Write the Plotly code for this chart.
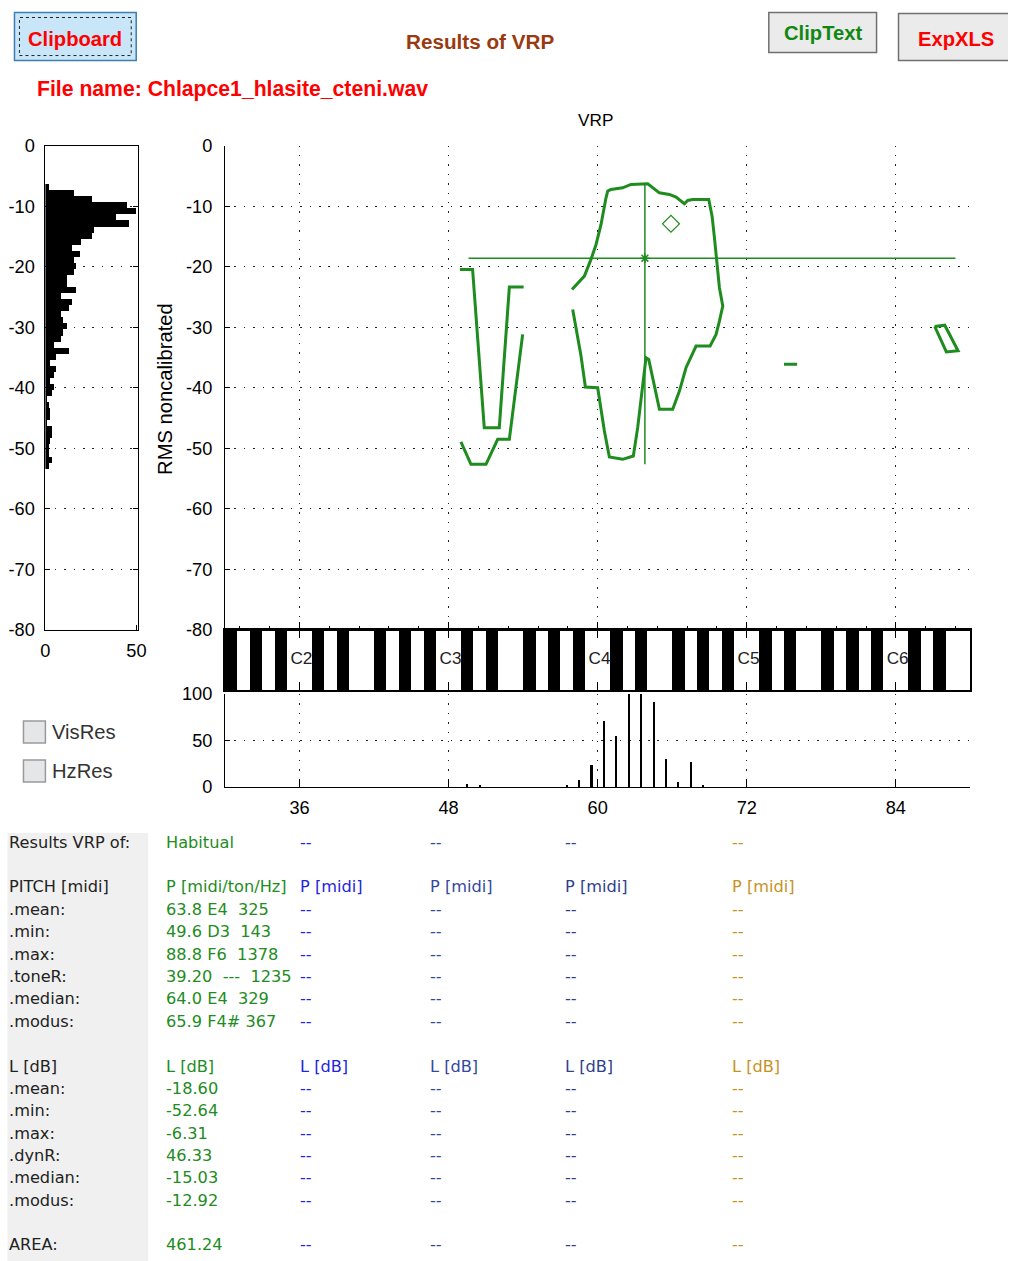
import plotly.graph_objects as go

# Positions below are given in screenshot pixels of the 1009x1261 picture.
# The captured page is offset and slightly scaled relative to figure pixels,
# so screenshot positions are mapped into figure pixels with that correction.
SX, OX = 0.9893, 3.5
SY, OY = 0.9835, 10.5
W, H = 1008, 1264


def X(px):
    return ((px - OX) / SX) / W


def Y(py):
    return 1 - ((py - OY) / SY) / H


def fs(size):
    return round(size / SX, 1)


GREEN = "#1e8c1e"

# ---------------- data ----------------
# left histogram of levels (dB bins, counts)
level_bins = [-6.8, -7.8, -8.8, -9.8, -10.8, -11.8, -12.8, -13.8, -14.8, -15.8,
              -16.8, -17.8, -18.8, -19.8, -20.8, -21.8, -22.8, -23.8, -24.8, -25.8,
              -26.8, -27.8, -28.8, -29.8, -30.8, -31.8, -32.8, -33.8, -34.8, -35.8,
              -36.8, -37.8, -38.8, -39.8, -40.8, -41.8, -42.8, -43.8, -44.8, -45.8,
              -46.8, -47.8, -48.8, -49.8, -50.8, -51.8, -52.8]
level_counts = [2, 16, 26, 45, 50, 39, 46, 27, 26, 20,
                15, 19, 16, 17, 16, 12, 12, 17, 9, 15,
                13, 9, 10, 12, 10, 9, 5, 13, 6, 3,
                6, 5, 3, 5, 4, 1, 2, 3, 3, 1,
                4, 4, 3, 2, 2, 4, 2]

# bottom histogram of pitch (midi bins, counts)
pitch_bins = [49.5, 50.5, 57.5, 58.5, 59.5, 60.5, 61.5, 62.5, 63.5, 64.5, 65.5, 66.5, 67.5, 68.5]
pitch_counts = [3, 2, 2, 8, 24, 71, 55, 118, 112, 91, 30, 5, 27, 2]

# VRP contour pieces (midi, dB)
main_pitch = [57.99, 58.26, 58.66, 59.01, 60.00, 60.54, 60.94, 62.01, 62.87, 63.22,
              63.49, 63.89, 64.11, 64.97, 66.04, 66.58, 67.11, 67.92, 69.05, 69.53,
              69.80, 70.07, 69.80, 69.58, 69.40, 69.21, 68.94, 67.65, 67.25, 66.98,
              66.31, 65.77, 64.97, 64.03, 63.09, 62.68, 62.01, 61.07, 60.81, 60.67,
              60.27, 59.87, 59.46, 58.93, 57.93]
main_level = [-27.06, -30.08, -34.76, -39.88, -39.99, -47.14, -51.43, -51.82, -51.27, -46.59,
              -42.19, -35.03, -35.31, -43.56, -43.56, -40.54, -36.69, -33.11, -33.11, -31.18,
              -28.98, -26.51, -23.48, -18.53, -15.23, -11.65, -8.90, -8.90, -9.06, -9.61,
              -8.51, -8.07, -7.80, -6.31, -6.31, -6.42, -6.97, -7.25, -7.52, -8.62,
              -13.03, -16.33, -18.80, -21.55, -23.76]
segA_pitch = [48.91, 49.93, 50.87, 52.08, 52.89, 54.04]
segA_level = [-20.45, -20.45, -46.59, -46.59, -23.37, -23.37]
segB_pitch = [48.99, 49.80, 51.01, 51.95, 52.89, 53.96]
segB_level = [-48.95, -52.64, -52.64, -48.51, -48.51, -31.18]
segD_pitch = [75.0, 76.05]
segD_level = [-36.1, -36.1]
segE_pitch = [87.13, 87.94, 89.01, 88.07, 87.13]
segE_level = [-29.87, -29.67, -33.90, -34.08, -29.87]

mean_pitch, mean_level = 63.8, -18.60
min_pitch, max_pitch = 49.6, 88.8
min_level, max_level = -52.64, -6.31
modus_pitch, modus_level = 65.9, -12.92

pitch_ticks = [36, 48, 60, 72, 84]
level_ticks = [0, -10, -20, -30, -40, -50, -60, -70, -80]
level_ticktext = ["0", "-10", "-20", "-30", "-40", "-50", "-60", "-70", "-80"]
octave_labels = ["C2", "C3", "C4", "C5", "C6"]
black_keys = [m for m in range(30, 90) if m % 12 in (1, 3, 6, 8, 10)]

# results table
row_labels = ["Results VRP of:", "PITCH [midi]", ".mean:", ".min:", ".max:", ".toneR:",
              ".median:", ".modus:", "L [dB]", ".mean:", ".min:", ".max:", ".dynR:",
              ".median:", ".modus:", "AREA:"]
row_y = [842, 886, 909, 931, 954, 976, 998, 1021, 1066, 1088, 1110, 1133, 1155, 1177, 1200, 1244]
habitual_col = ["Habitual", "P [midi/ton/Hz]", "63.8 E4  325", "49.6 D3  143", "88.8 F6  1378",
                "39.20  ---  1235", "64.0 E4  329", "65.9 F4# 367", "L [dB]", "-18.60",
                "-52.64", "-6.31", "46.33", "-15.03", "-12.92", "461.24"]
empty_col = ["--", "P [midi]", "--", "--", "--", "--", "--", "--", "L [dB]",
             "--", "--", "--", "--", "--", "--", "--"]
empty_col_x = [300, 430, 566, 733]
empty_col_colors = ["#2424e0", "#34489e", "#2f3f90", "#c8921e"]

# ---------------- figure ----------------
fig = go.Figure()

# left histogram
fig.add_trace(go.Bar(x=level_counts, y=level_bins, orientation="h", width=1.0,
                     marker=dict(color="black", line=dict(width=0)),
                     xaxis="x4", yaxis="y4"))
# keyboard
fig.add_trace(go.Bar(x=[m + 0.5 for m in black_keys], y=[1] * len(black_keys), width=1.0,
                     marker=dict(color="black", line=dict(width=0)),
                     xaxis="x2", yaxis="y2"))
fig.add_trace(go.Scatter(x=[p + 0.15 for p in pitch_ticks], y=[0.5] * len(pitch_ticks),
                         mode="text", text=octave_labels,
                         textfont=dict(size=fs(17), color="#222", family="Arial"),
                         xaxis="x2", yaxis="y2"))
# bottom histogram
fig.add_trace(go.Bar(x=pitch_bins, y=pitch_counts, width=0.17,
                     marker=dict(color="black", line=dict(width=0)),
                     xaxis="x3", yaxis="y3"))

# VRP contours
for px_, py_ in [(main_pitch, main_level), (segA_pitch, segA_level), (segB_pitch, segB_level),
                 (segD_pitch, segD_level), (segE_pitch, segE_level)]:
    fig.add_trace(go.Scatter(x=px_, y=py_, mode="lines",
                             line=dict(color=GREEN, width=3), xaxis="x", yaxis="y"))
# mean cross
fig.add_trace(go.Scatter(x=[min_pitch, max_pitch], y=[mean_level, mean_level], mode="lines",
                         line=dict(color=GREEN, width=1.5), xaxis="x", yaxis="y"))
fig.add_trace(go.Scatter(x=[mean_pitch, mean_pitch], y=[max_level, min_level], mode="lines",
                         line=dict(color=GREEN, width=1.5), xaxis="x", yaxis="y"))
fig.add_trace(go.Scatter(x=[mean_pitch], y=[mean_level], mode="markers",
                         marker=dict(symbol="asterisk-open", size=8, color=GREEN,
                                     line=dict(color=GREEN, width=1.5)),
                         xaxis="x", yaxis="y"))
fig.add_trace(go.Scatter(x=[modus_pitch], y=[modus_level], mode="markers",
                         marker=dict(symbol="diamond-open", size=13, color=GREEN,
                                     line=dict(color=GREEN, width=1.2)),
                         xaxis="x", yaxis="y"))

GRID = dict(showgrid=True, gridcolor="#222", gridwidth=1.2, griddash="1.5px,7.9px")
TICKF = dict(size=fs(18), color="black", family="Arial")
dx = [X(224), X(971)]

layout_axes = dict(
    xaxis=dict(domain=dx, anchor="y", range=[30, 90], showline=True, linecolor="black",
               linewidth=1, ticks="inside", tickvals=pitch_ticks, ticklen=8, tickcolor="black",
               showticklabels=False, zeroline=False,
               minor=dict(ticks="inside", tick0=36, dtick=2.4, ticklen=4, tickcolor="black",
                          showgrid=False),
               **GRID),
    yaxis=dict(domain=[Y(630), Y(146)], anchor="x", range=[-80, 0], showline=True,
               linecolor="black", linewidth=1, ticks="inside", tickvals=level_ticks,
               ticktext=level_ticktext, ticklen=5, tickcolor="black", tickfont=TICKF,
               ticklabelstandoff=8, zeroline=False, **GRID),
    xaxis2=dict(domain=dx, anchor="y2", range=[30, 90], showline=True, mirror="ticks",
                linecolor="black", linewidth=1.5, ticks="inside", tickvals=pitch_ticks,
                ticklen=8, tickcolor="black", showticklabels=False, showgrid=False,
                zeroline=False),
    yaxis2=dict(domain=[Y(690), Y(630)], anchor="x2", range=[0, 1], showline=True,
                mirror=True, linecolor="black", linewidth=1.5, showticklabels=False,
                ticks="", showgrid=False, zeroline=False),
    xaxis3=dict(domain=dx, anchor="y3", range=[30, 90], showline=True, linecolor="black",
                linewidth=1, ticks="inside", tickvals=pitch_ticks, ticklen=8,
                tickcolor="black", tickfont=TICKF, ticklabelstandoff=4, zeroline=False,
                **GRID),
    yaxis3=dict(domain=[Y(787), Y(694)], anchor="x3", range=[0, 100], showline=True,
                linecolor="black", linewidth=1, ticks="inside", tickvals=[0, 50, 100],
                ticklen=5, tickcolor="black", tickfont=TICKF, ticklabelstandoff=8,
                zeroline=False, **GRID),
    xaxis4=dict(domain=[X(44), X(137)], anchor="y4", range=[0, 51], showline=True,
                mirror=True, linecolor="black", linewidth=1, ticks="inside",
                tickvals=[0, 50], ticklen=5, tickcolor="black", tickfont=TICKF,
                ticklabelstandoff=4, showgrid=False, zeroline=False),
    yaxis4=dict(domain=[Y(630), Y(146)], anchor="x4", range=[-80, 0], showline=True,
                mirror="ticks", linecolor="black", linewidth=1, ticks="inside",
                tickvals=level_ticks, ticktext=level_ticktext, ticklen=5, tickcolor="black",
                tickfont=TICKF, ticklabelstandoff=6, zeroline=False, **GRID),
)


def txt(px, py, s, color="black", size=16, bold=False, family="DejaVu Sans",
        xanchor="left", angle=0):
    if bold:
        s = "<b>" + s + "</b>"
    if xanchor == "left":
        px = px - 3  # compensate the annotation's inner padding
    return dict(x=X(px), y=Y(py), xref="paper", yref="paper", text=s, showarrow=False,
                xanchor=xanchor, yanchor="middle", textangle=angle,
                font=dict(color=color, size=fs(size), family=family))


annotations = [
    txt(74, 39, "Clipboard", "#ff0000", 20, True, "Arial", "center"),
    txt(480, 42, "Results of VRP", "#9a3a10", 20.5, True, "Arial", "center"),
    txt(823, 33, "ClipText", "#118811", 20, True, "Arial", "center"),
    txt(957, 39, "ExpXLS", "#ff0000", 20, True, "Arial", "center"),
    txt(37, 89, "File name: Chlapce1_hlasite_cteni.wav", "#ff0000", 21, True, "Arial", "left"),
    txt(595, 120, "VRP", "black", 17, False, "Arial", "center"),
    txt(164, 389, "RMS noncalibrated", "black", 20, False, "Arial", "center", -90),
    txt(52, 732, "VisRes", "#333", 20, False, "Arial", "left"),
    txt(52, 771, "HzRes", "#333", 20, False, "Arial", "left"),
]
for lab, yy in zip(row_labels, row_y):
    annotations.append(txt(9, yy, lab, "#222", 16))
for val, yy in zip(habitual_col, row_y):
    annotations.append(txt(166, yy, val, GREEN, 16))
for cx, cc in zip(empty_col_x, empty_col_colors):
    for val, yy in zip(empty_col, row_y):
        annotations.append(txt(cx, yy, val, cc, 16))


def rect(x0, y0, x1, y1, fill=None, line="black", lw=1, dash="solid", layer="below"):
    return dict(type="rect", xref="paper", yref="paper", x0=X(x0), x1=X(x1), y0=Y(y1), y1=Y(y0),
                fillcolor=fill if fill else "rgba(0,0,0,0)",
                line=dict(color=line, width=lw, dash=dash), layer=layer)


shapes = [
    rect(6, 833, 147, 1261, fill="#f0f0f0", line="#f0f0f0", lw=0),
    rect(13, 13, 135, 61, fill="#c9e5f8", line="#3c7fb1", lw=1.5),
    rect(18, 18, 130, 56, fill=None, line="#222", lw=1, dash="dot"),
    rect(769, 13, 877, 53, fill="#ebebeb", line="#707070", lw=1.5),
    rect(899, 14, 1012, 61, fill="#ebebeb", line="#707070", lw=1.5),
    rect(22, 721, 44, 743, fill="#e4e6e8", line="#9a9a9a", lw=1.5),
    rect(22, 760, 44, 782, fill="#e4e6e8", line="#9a9a9a", lw=1.5),
]

fig.update_layout(
    width=W, height=H, margin=dict(l=0, r=0, t=0, b=0),
    paper_bgcolor="white", plot_bgcolor="white",
    showlegend=False, font=dict(family="Arial", color="black"),
    annotations=annotations, shapes=shapes, bargap=0,
    **layout_axes,
)

fig.write_html("out.html")
